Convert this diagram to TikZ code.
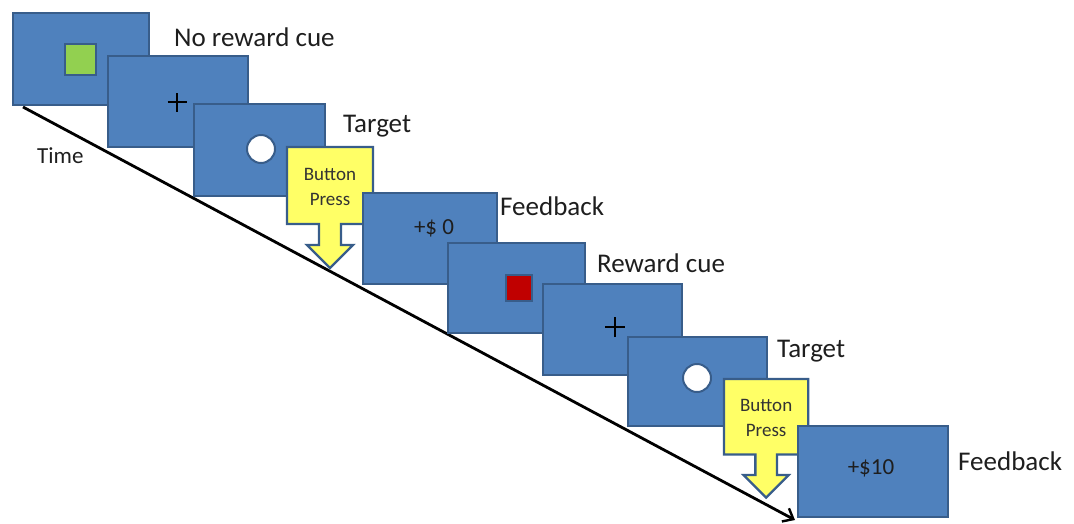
\documentclass[tikz,border=0pt]{standalone}
\usepackage{fontspec}
\setmainfont{Carlito}
\usetikzlibrary{arrows.meta}

\definecolor{screenfill}{RGB}{79,129,189}
\definecolor{screenline}{RGB}{56,93,138}
\definecolor{pressfill}{RGB}{255,255,102}
\definecolor{cuegreen}{RGB}{146,208,80}
\definecolor{cuered}{RGB}{192,0,0}
\definecolor{labelgray}{RGB}{30,30,30}

\tikzset{
  screen/.style={draw=screenline, fill=screenfill, line width=2.3pt,
    inner sep=0pt, anchor=north west},
  cue/.style={draw=screenline, line width=2pt, inner sep=0pt,
    minimum size=#1, anchor=north west},
  target/.style={circle, draw=screenline, fill=white, line width=2pt,
    inner sep=0pt, minimum size=28pt},
  fixation/.style={black, line width=1.3pt},
  stagelabel/.style={font=\fontsize{27}{30}\selectfont, text=labelgray,
    inner sep=0pt, anchor=base west},
  amount/.style={font=\fontsize{23}{26}\selectfont, text=labelgray, inner sep=0pt},
  timeline/.style={black, line width=2.8pt, -{Straight Barb[length=9pt,width=15pt,line width=2.4pt]}},
  presstext/.style={font=\fontsize{19}{25}\selectfont, text=black!80,
    align=center, inner sep=0pt},
  pics/press/.style={code={
    \path[fill=pressfill, draw=screenline, line width=2.3pt, line join=miter]
      (0,0) -- (86,0) -- (86,77) -- (54,77) -- (54,98) -- (66,98) -- (43,121)
      -- (20,98) -- (32,98) -- (32,77) -- (0,77) -- cycle;
    \node[presstext] (-text) at (43,40) {Button\\Press};
  }},
}

\begin{document}
\begin{tikzpicture}[x=1pt, y=-1pt]
  \useasboundingbox (0,0) rectangle (1074,523);

  % time axis
  \coordinate (t0) at (23,107);
  \coordinate (t1) at (795,520);
  \draw[timeline] (t0) -- (t1);
  \node[font=\fontsize{23}{26}\selectfont, text=labelgray, inner sep=0pt,
        anchor=base west] (time) at (37,163) {Time};

  % first trial: no reward
  \node[screen, minimum width=136pt, minimum height=92pt] (s1) at (12,12) {};
  \node[cue=31pt, fill=cuegreen] (g1) at (64,43) {};
  \node[screen, minimum width=140pt, minimum height=91pt] (s2) at (107,55) {};
  \coordinate (p1) at (177,102);
  \draw[fixation] ([xshift=-9.5pt]p1) -- ([xshift=9.5pt]p1);
  \draw[fixation] ([yshift=-9.5pt]p1) -- ([yshift=9.5pt]p1);
  \node[screen, minimum width=131pt, minimum height=92pt] (s3) at (193,103) {};
  \node[target] (c1) at (261,149) {};
  \pic (bp1) at (287,147) {press};
  \node[screen, minimum width=134pt, minimum height=91pt] (s4) at (362,192) {};
  \node[amount] (f1) at (434,228) {+\$ 0};

  % second trial: reward
  \node[screen, minimum width=137pt, minimum height=90pt] (s5) at (447,242) {};
  \node[cue=26pt, fill=cuered] (r1) at (505,274) {};
  \node[screen, minimum width=139pt, minimum height=91pt] (s6) at (542,283) {};
  \coordinate (p2) at (615,327);
  \draw[fixation] ([xshift=-10pt]p2) -- ([xshift=10pt]p2);
  \draw[fixation] ([yshift=-10pt]p2) -- ([yshift=10pt]p2);
  \node[screen, minimum width=139pt, minimum height=89pt] (s7) at (627,336) {};
  \node[target] (c2) at (697,378) {};
  \pic[xscale=0.98, yscale=0.98] (bp2) at (724,379) {press};
  \node[screen, minimum width=150pt, minimum height=91pt] (s8) at (797,425) {};
  \node[amount] (f2) at (871,468) {+\$10};

  % stage labels
  \node[stagelabel] (l1) at (174,46) {No reward cue};
  \node[stagelabel] (l2) at (343,132) {Target};
  \node[stagelabel] (l3) at (500,215) {Feedback};
  \node[stagelabel] (l4) at (597,272) {Reward cue};
  \node[stagelabel] (l5) at (777,357) {Target};
  \node[stagelabel] (l6) at (958,470) {Feedback};
\end{tikzpicture}
\end{document}
